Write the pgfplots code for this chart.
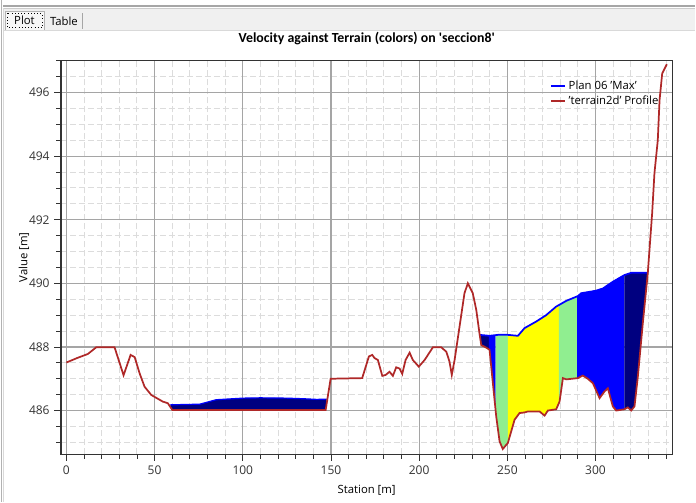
\documentclass[border=0pt]{standalone}
\usepackage{pgfplots}
\pgfplotsset{compat=1.18}
\usepackage{pgfplotstable}
\usepgfplotslibrary{fillbetween}
\usepackage{fontspec}
\setmainfont{Open Sans}
\newfontfamily\titlefont{Carlito}
\definecolor{terr}{RGB}{175,40,40}
\definecolor{navyw}{RGB}{0,0,128}
\definecolor{bluew}{RGB}{0,0,255}
\definecolor{lgreen}{RGB}{144,238,144}
\definecolor{yel}{RGB}{255,255,0}
\definecolor{gmajor}{RGB}{165,165,165}
\definecolor{gminor}{RGB}{220,220,220}

\pgfplotstableread{
x y
0 487.51
6 487.65
12.2 487.78
16.9 487.99
27.3 487.99
32.4 487.11
36.4 487.75
38.7 487.68
41.5 487.17
44.3 486.75
48.1 486.49
54.7 486.28
57.5 486.23
60 486.02
147 486.02
149.8 487.0
167.7 487.02
171.5 487.70
173.4 487.75
174.7 487.65
176.6 487.59
179.1 487.09
181 487.12
183.2 487.22
185.1 487.09
187 487.36
188.9 487.32
190.4 487.15
192.3 487.59
194.6 487.82
196.4 487.59
199.8 487.38
203.1 487.59
207.8 487.99
212.5 487.99
215.4 487.85
217.2 487.54
218.5 487.12
220.1 487.59
222.9 488.64
225.7 489.69
227.6 490.0
230.4 489.69
232.4 489.16
234.2 488.43
235.2 488.06
238 487.98
239.9 487.91
241.8 486.86
243.7 485.81
245.6 485.03
247.4 484.79
250.3 484.98
254.1 485.71
256.9 485.92
259.7 485.94
261.6 485.97
268.3 485.97
271.1 485.84
273 486.0
277.7 486.04
279.6 486.28
281.5 487.02
283.4 486.98
290 487.02
292.8 487.10
295.6 487.0
298.5 486.86
302.3 486.39
305.1 486.6
307 486.7
309.8 486.13
311.7 486.0
316.4 486.04
318.3 486.1
320.2 486.0
322.1 486.13
324 487.07
326.8 488.74
329.6 490.3
332.1 492.2
333.4 493.46
335.3 494.5
336.3 495.76
337.8 496.6
340.4 496.89
}\terrain

\pgfplotstableread{
x y
58.9 486.18
75.6 486.2
84.9 486.34
100 486.39
110 486.4
125 486.39
135 486.37
142 486.35
147.5 486.36
}\waterleft

\pgfplotstableread{
x y
234.2 488.38
239.9 488.35
244.6 488.38
250.3 488.38
256 488.35
259.7 488.59
266.4 488.8
272 489.0
277.7 489.27
283.4 489.45
290 489.6
291.9 489.69
300.4 489.77
304.2 489.84
309.8 490.05
316.4 490.26
320.2 490.33
329.8 490.33
}\waterright

\begin{document}
\begin{tikzpicture}
\path (0,0) rectangle (522pt,376.5pt);
\begin{scope}[x=0.75pt,y=-0.75pt,shift={(0,376.5pt)}]
  \fill[gray!12] (3,8) rectangle (696,29.5);
  \draw[gray!70,line width=0.9pt] (3,5.5) -- (696,5.5);
  \draw[gray!40] (3,7.5) -- (696,7.5);
  \draw[gray!60,line width=0.75pt] (1.5,0) -- (1.5,502);
  \draw[gray!30] (3.5,8) -- (3.5,502);
  \fill[gray!6] (5,11) rectangle (44,29.5);
  \draw[gray!60] (5,29.5) -- (5,11) -- (44,11) -- (44,29.5);
  \draw[black,dotted] (7,13) rectangle (42,27);
  \node[font=\fontsize{8.5}{10}\selectfont] at (24.5,19.5) {Plot};
  \draw[gray!70] (82,13) -- (82,29);
  \node[font=\fontsize{8.5}{10}\selectfont] at (64,21) {Table};
  \draw[gray!30] (3,29.5) -- (696,29.5);
\end{scope}
\begin{axis}[
  set layers,
  at={(45.75pt,36pt)}, anchor=south west,
  scale only axis, width=459pt, height=295.5pt,
  xmin=-3.1, xmax=343.6, ymin=484.63, ymax=497.01,
  xtick={0,50,...,300},
  minor xtick={10,20,30,40,60,70,80,90,110,120,130,140,160,170,180,190,210,220,230,240,260,270,280,290,310,320,330,340},
  ytick={486,488,...,496},
  minor ytick={485,485.5,486.5,487,487.5,488.5,489,489.5,490.5,491,491.5,492.5,493,493.5,494.5,495,495.5,496.5,497},
  tick pos=left, tick align=outside,
  major tick length=5pt, minor tick length=3.5pt,
  every tick/.style={black!80,line width=0.6pt},
  axis line style={black!80,line width=0.9pt},
  grid=minor,
  minor grid style={gminor,dash pattern=on 4.5pt off 2.25pt,line width=0.75pt},
  /pgf/number format/assume math mode=true,
  /pgf/number format/1000 sep={},
  ticklabel style={font=\fontsize{9}{11}\selectfont, text=black!80},
  title={\titlefont\bfseries Velocity against Terrain (colors) on 'seccion8'},
  title style={at={(axis description cs:0.5,1.0355)},anchor=center,font=\fontsize{10.4}{12}\selectfont},
  xlabel={Station [m]},
  ylabel={Value [m]},
  xlabel style={at={(axis description cs:0.5,-0.0914)},anchor=center,font=\fontsize{8.5}{10}\selectfont},
  ylabel style={at={(axis description cs:-0.0605,0.5)},anchor=center,rotate=0,font=\fontsize{8.5}{10}\selectfont},
  legend style={at={(0.797,0.959)},anchor=north west,draw=none,fill=none,
    font=\fontsize{8.5}{11}\selectfont,row sep=-1pt,inner sep=1pt},
  legend cell align=left,
  legend image code/.code={\draw[#1] (0cm,0cm) -- (0.38cm,0cm);},
]
\begin{pgfonlayer}{axis grid}
\draw[gmajor,line width=0.9pt] (axis cs:0,484.63) -- (axis cs:0,497.01);
\draw[gmajor,line width=0.9pt] (axis cs:50,484.63) -- (axis cs:50,497.01);
\draw[gmajor,line width=0.9pt] (axis cs:100,484.63) -- (axis cs:100,497.01);
\draw[gmajor,line width=0.9pt] (axis cs:150,484.63) -- (axis cs:150,497.01);
\draw[gmajor,line width=0.9pt] (axis cs:200,484.63) -- (axis cs:200,497.01);
\draw[gmajor,line width=0.9pt] (axis cs:250,484.63) -- (axis cs:250,497.01);
\draw[gmajor,line width=0.9pt] (axis cs:300,484.63) -- (axis cs:300,497.01);
\draw[gmajor,line width=0.9pt] (axis cs:-3.1,486) -- (axis cs:343.6,486);
\draw[gmajor,line width=0.9pt] (axis cs:-3.1,488) -- (axis cs:343.6,488);
\draw[gmajor,line width=0.9pt] (axis cs:-3.1,490) -- (axis cs:343.6,490);
\draw[gmajor,line width=0.9pt] (axis cs:-3.1,492) -- (axis cs:343.6,492);
\draw[gmajor,line width=0.9pt] (axis cs:-3.1,494) -- (axis cs:343.6,494);
\draw[gmajor,line width=0.9pt] (axis cs:-3.1,496) -- (axis cs:343.6,496);
\end{pgfonlayer}
\addplot[draw=none,name path=T,forget plot] table {\terrain};
\addplot[draw=none,name path=WL,forget plot] table {\waterleft};
\addplot[draw=none,name path=WR,forget plot] table {\waterright};
\addplot[fill=navyw,draw=none,forget plot] fill between[of=WL and T,soft clip={domain=58.9:147.5}];
\addplot[fill=navyw,draw=none,forget plot] fill between[of=WR and T,soft clip={domain=234.2:239.5}];
\addplot[fill=bluew,draw=none,forget plot] fill between[of=WR and T,soft clip={domain=239.5:243.3}];
\addplot[fill=lgreen,draw=none,forget plot] fill between[of=WR and T,soft clip={domain=243.3:250.3}];
\addplot[fill=yel,draw=none,forget plot] fill between[of=WR and T,soft clip={domain=250.3:279.2}];
\addplot[fill=lgreen,draw=none,forget plot] fill between[of=WR and T,soft clip={domain=279.2:289.6}];
\addplot[fill=bluew,draw=none,forget plot] fill between[of=WR and T,soft clip={domain=289.6:316.4}];
\addplot[fill=navyw,draw=none,forget plot] fill between[of=WR and T,soft clip={domain=316.4:329.8}];
\addplot[bluew,line width=0.9pt,forget plot] table {\waterleft};
\addplot[bluew,line width=1.3pt] table {\waterright};
\addlegendentry{Plan 06 'Max'}
\addplot[terr,line width=1.3pt] table {\terrain};
\addlegendentry{'terrain2d' Profile}
\end{axis}
\end{tikzpicture}
\end{document}
